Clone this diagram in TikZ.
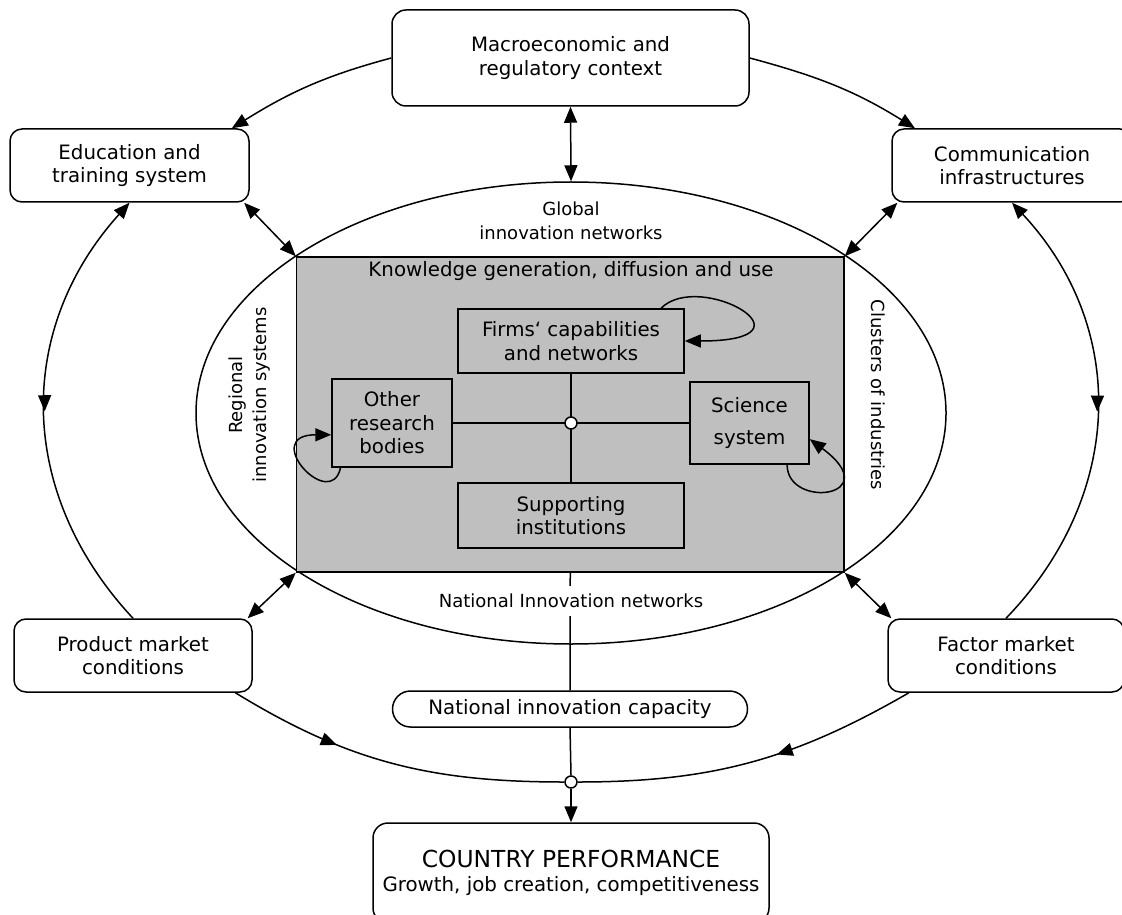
\documentclass[tikz,border=0pt]{standalone}
\usepackage{fontspec}
\setmainfont{DejaVu Sans}
\usetikzlibrary{arrows.meta,shapes.geometric,decorations.markings}
\definecolor{kgdgray}{gray}{0.75}

\begin{document}
\begin{tikzpicture}[x=0.5pt, y=0.5pt, line width=0.75pt,
  every node/.style={font=\fontsize{9.9}{11.8}\selectfont, align=center, inner sep=2pt},
  outerbox/.style={draw, fill=white, rounded corners=6pt, minimum height=36.5pt},
  unitbox/.style={draw, fill=kgdgray},
  ringlabel/.style={font=\fontsize{9}{12}\selectfont},
  dot/.style={circle, draw, fill=white, minimum size=6pt, inner sep=0pt},
  arr/.style={-{Triangle[length=8pt,width=6.5pt]}},
  dbl/.style={{Triangle[length=8pt,width=6.5pt]}-{Triangle[length=8pt,width=6.5pt]}},
  midarrow/.style={postaction={decorate}, decoration={markings,
      mark=at position #1 with {\arrow{Triangle[length=8pt,width=6.5pt]}}}},
  midback/.style={postaction={decorate}, decoration={markings,
      mark=at position #1 with {\arrowreversed{Triangle[length=8pt,width=6.5pt]}}}}]

\useasboundingbox (0,0) rectangle (1122,-914);

% ---------- OUTER RING ----------
\node[outerbox, rounded corners=7pt, minimum width=178.5pt, minimum height=48pt] (macro) at (570.5,-58) {Macroeconomic and\\regulatory context};
\node[outerbox, minimum width=119.5pt] (edu) at (129.5,-165.5) {Education and\\training system};
\node[outerbox, minimum width=120pt] (comm) at (1012,-165.5) {Communication\\infrastructures};
\node[outerbox, minimum width=119pt] (prod) at (133,-655.5) {Product market\\conditions};
\node[outerbox, minimum width=118pt] (factor) at (1006,-655.5) {Factor market\\conditions};
\node[dot] (join) at (571,-782) {};

% Arcs
\draw[arr] (macro.west) to[out=195,in=32] (edu.20);
\draw[arr] (macro.east) to[out=-15,in=148] (comm.159);
\draw[arr, midback=0.5] (prod.north) to[out=133,in=228,looseness=1.05] (edu.south);
\draw[arr, midback=0.5] (factor.north) to[out=46,in=-47,looseness=1.05] (comm.south);
\draw[midarrow=0.33] (prod.-20) to[out=-31.5,in=180] (join.west);
\draw[midarrow=0.42] (factor.201) to[out=210,in=0] (join.east);

% ---------- NATIONAL SYSTEM ----------
\node[draw, ellipse, minimum width=375pt, minimum height=231pt, inner sep=0pt] (nat) at (571,-413) {};
\node[ringlabel] (glob) at (571,-221) {Global\\innovation networks};
\node[ringlabel, rotate=90] (regl) at (250,-395) {Regional\\innovation systems};
\node[ringlabel, rotate=-90] (clus) at (878,-395) {Clusters of industries};

% ---------- KNOWLEDGE CORE ----------
\node[draw, fill=kgdgray, minimum width=273.75pt, minimum height=157.5pt] (kgd) at (570.25,-414.5) {};
\node (kgdlbl) at (571,-271) {Knowledge generation, diffusion and use};
\node[unitbox, minimum width=113pt, minimum height=32pt] (firms) at (571,-341) {Firms‘ capabilities\\and networks};
\node[unitbox, minimum width=60pt, minimum height=44pt] (other) at (392,-423) {Other\\research\\bodies};
\node[unitbox, minimum width=59.5pt, minimum height=41pt] (science) at (749.5,-423) {Science\\[4pt]system};
\node[unitbox, minimum width=113pt, minimum height=32.5pt] (support) at (571,-515.5) {Supporting\\institutions};

\draw (firms.south) -- (support.north);
\draw (other.east) -- (science.west);
\node[dot] (hub) at (571,-423) {};

% Self loops
\draw[arr] (firms.20) .. controls +(39,39) and +(140,0) .. (firms.east);
\draw[arr] (other.221) .. controls +(-10,-45) and +(-72,0) .. (other.191);
\draw[arr] (science.-48) .. controls +(0,-45) and +(78,-58) .. (science.-15);

% Links to the ring
\draw[dbl] (macro.south) -- (nat.north);
\draw[dbl] (edu.-18) -- (kgd.north west);
\draw[dbl] (comm.198) -- (kgd.north east);
\draw[dbl] (prod.18) -- (kgd.south west);
\draw[dbl] (factor.162) -- (kgd.south east);

% ---------- PERFORMANCE ----------
\node[outerbox, rounded corners=9pt, minimum width=177.5pt, minimum height=18pt] (nic) at (570,-709) {National innovation capacity};
\node[outerbox, rounded corners=7.5pt, minimum width=198pt, minimum height=50pt] (perf) at (571,-873)
  {{\fontsize{11.7}{14}\selectfont COUNTRY PERFORMANCE}\\Growth, job creation, competitiveness};

\draw (kgd.south) -- (nic.north);
\node[ringlabel, fill=white, inner sep=4pt] (natlbl) at (571,-601) {National Innovation networks};
\draw (nic.south) -- (join.north);
\draw[arr] (join.south) -- (perf.north);

\end{tikzpicture}
\end{document}
